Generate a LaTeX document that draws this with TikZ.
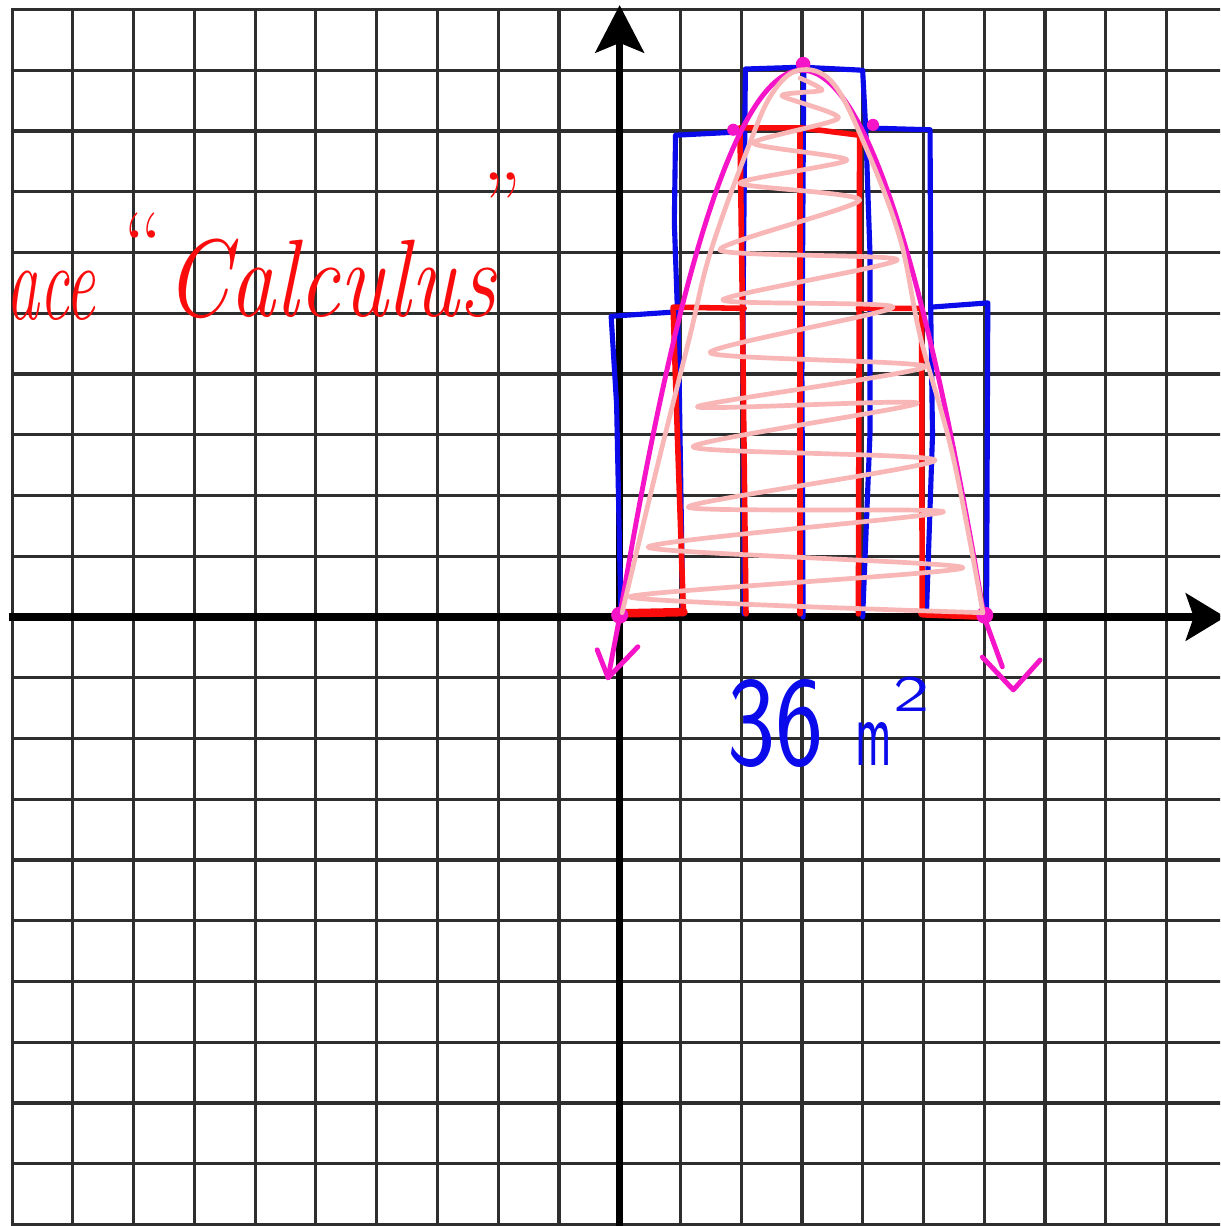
\documentclass[tikz,border=0pt]{standalone}
\usepackage{fontspec}
\usepackage{graphicx}
\usetikzlibrary{arrows.meta}
\definecolor{mblue}{RGB}{10,10,235}
\definecolor{mred}{RGB}{250,12,12}
\definecolor{mmag}{RGB}{245,20,200}
\definecolor{mpink}{RGB}{248,182,182}
\begin{document}
\begin{tikzpicture}[x=1cm,y=1cm, line cap=round, line join=round,
  gridline/.style={draw=black!82, line width=1.5pt, line cap=rect},
  axisline/.style={draw=black, line width=3.3pt, line cap=butt},
  bluepen/.style={draw=mblue, line width=2.4pt},
  redpen/.style={draw=mred, line width=2.6pt},
  magpen/.style={draw=mmag, line width=2.3pt},
  pinkpen/.style={draw=mpink, line width=2.2pt},
  ink/.style={inner sep=0pt, outer sep=0pt}]
\useasboundingbox (-10.2,-10.025) rectangle (9.885,10.156);
\clip (-10.2,-10.025) rectangle (9.885,10.156);
\fill[white] (-10.2,-10.025) rectangle (9.885,10.156);
% grid
\foreach \i in {-10,...,9} \draw[gridline] (\i,-10.2) -- (\i,10);
\foreach \j in {-10,...,10} \draw[gridline] (-10,\j) -- (10.2,\j);
% axes
\draw[axisline] (-10.05,0) -- (9.45,0);
\fill (9.97,0) -- (9.31,0.40) -- (9.45,0) -- (9.31,-0.40) -- cycle;
\draw[axisline] (0,-10.2) -- (0,9.5);
\fill (0,10.07) -- (0.41,9.28) -- (0,9.45) -- (-0.41,9.28) -- cycle;
% blue upper sums
\draw[bluepen] (0.02,0.05) -- (-0.05,3.5) -- (-0.14,4.95) -- (0.9,5.02);
\draw[bluepen] (1.04,0.05) -- (0.97,4.5) -- (0.9,6.5) -- (0.92,7.93) -- (1.9,7.98);
\draw[bluepen] (2.05,0.05) -- (2.03,5) -- (2.07,9.02) -- (3.0,9.05) -- (4.0,9.0) -- (4.05,8.05) -- (5.11,8.02) -- (5.12,5.1) -- (6.06,5.17) -- (6.04,0.08);
\draw[bluepen] (3.03,8.95) -- (3.0,4) -- (3.02,0.0);
\draw[bluepen] (4.05,8.05) -- (4.12,6) -- (4.12,3) -- (4.0,0.0);
\draw[bluepen] (5.12,5.1) -- (5.15,3) -- (5.05,0.05);
% red lower sums
\draw[redpen, line width=4pt] (0.05,0.06) -- (1.05,0.08);
\draw[redpen] (1.05,0.08) -- (0.95,3) -- (0.88,5.1) -- (2.05,5.08);
\draw[redpen] (1.98,8.05) -- (2.02,5.1) -- (2.08,0.05);
\draw[redpen] (1.98,8.05) -- (3.0,8.05) -- (3.95,7.93) -- (3.93,0.05);
\draw[redpen] (2.97,8.05) -- (2.97,0.05);
\draw[redpen] (3.93,5.08) -- (4.97,5.08) -- (4.98,0.05);
\draw[redpen, line width=4pt] (4.98,0.06) -- (6.0,0.02);
% magenta parabola
\draw[magpen] plot[domain=0:6, samples=80, smooth] (\x, {6*\x-\x*\x});
\draw[magpen] (0,0) -- (-0.19,-1.0);
\draw[magpen] (-0.37,-0.54) -- (-0.19,-1.0) -- (0.3,-0.49);
\draw[magpen] (6,0) -- (6.3,-0.82);
\draw[magpen] (5.97,-0.66) -- (6.48,-1.2) -- (6.92,-0.71);
\fill[mmag] (0,0.03) circle (0.14);
\fill[mmag] (6.01,0.03) circle (0.14);
\fill[mmag] (3.02,9.1) circle (0.12);
\fill[mmag] (1.87,8.02) circle (0.1);
\fill[mmag] (4.17,8.1) circle (0.1);
% pink scribble
\draw[pinkpen] plot[smooth, tension=0.6] coordinates {(0.04,0.07) (0.6,2.4) (1.15,4.6) (1.49,5.99) (2.10,7.69) (2.5,8.6) (2.95,9.0) (3.51,8.79) (4.07,7.69) (4.62,6.21) (4.95,4.61) (5.49,2.63) (5.98,0.07)};
\draw[pinkpen] plot[smooth, tension=0.4] coordinates {(2.97,8.87) (3.33,8.67) (2.67,8.58) (3.60,8.21) (2.20,7.80) (3.74,7.52) (1.98,7.14) (3.95,6.86) (1.65,6.04) (4.57,5.88) (1.70,5.22) (4.50,5.10) (1.49,4.35) (5.03,4.12) (1.28,3.46) (4.90,3.52) (1.21,2.80) (5.19,2.58) (1.13,1.81) (5.33,1.73) (0.47,1.15) (5.65,0.81) (0.17,0.33) (5.98,0.07)};
% red handwriting
\node[ink, text=mred, anchor=base east, font=\itshape\fontsize{43}{50}\selectfont] (ace) at (-8.63,4.89) {\scalebox{0.72}[1.2]{ace}};
\node[ink, text=mred, anchor=base west, font=\itshape\fontsize{43}{50}\selectfont] (calc) at (-7.48,4.95) {\scalebox{1}[1.2]{Calculus}};
\node[ink, text=mred, font=\upshape\fontsize{43}{50}\selectfont] (oq) at (-7.84,6.12) {“};
\node[ink, text=mred, font=\upshape\fontsize{43}{50}\selectfont] (cq) at (-1.93,6.78) {”};
% blue answer
\node[ink, text=mblue, anchor=base west, font=\sffamily\fontsize{60}{60}\selectfont] (num) at (1.78,-2.44) {\scalebox{0.8}[1]{36}};
\node[ink, text=mblue, anchor=base west, font=\sffamily\fontsize{46}{50}\selectfont] (unit) at (3.88,-2.44) {\scalebox{0.5}[1]{m}};
\node[ink, text=mblue, anchor=base west, font=\sffamily\fontsize{24}{26}\selectfont] (sq) at (4.50,-1.56) {\scalebox{1.5}[1]{2}};
\end{tikzpicture}
\end{document}
